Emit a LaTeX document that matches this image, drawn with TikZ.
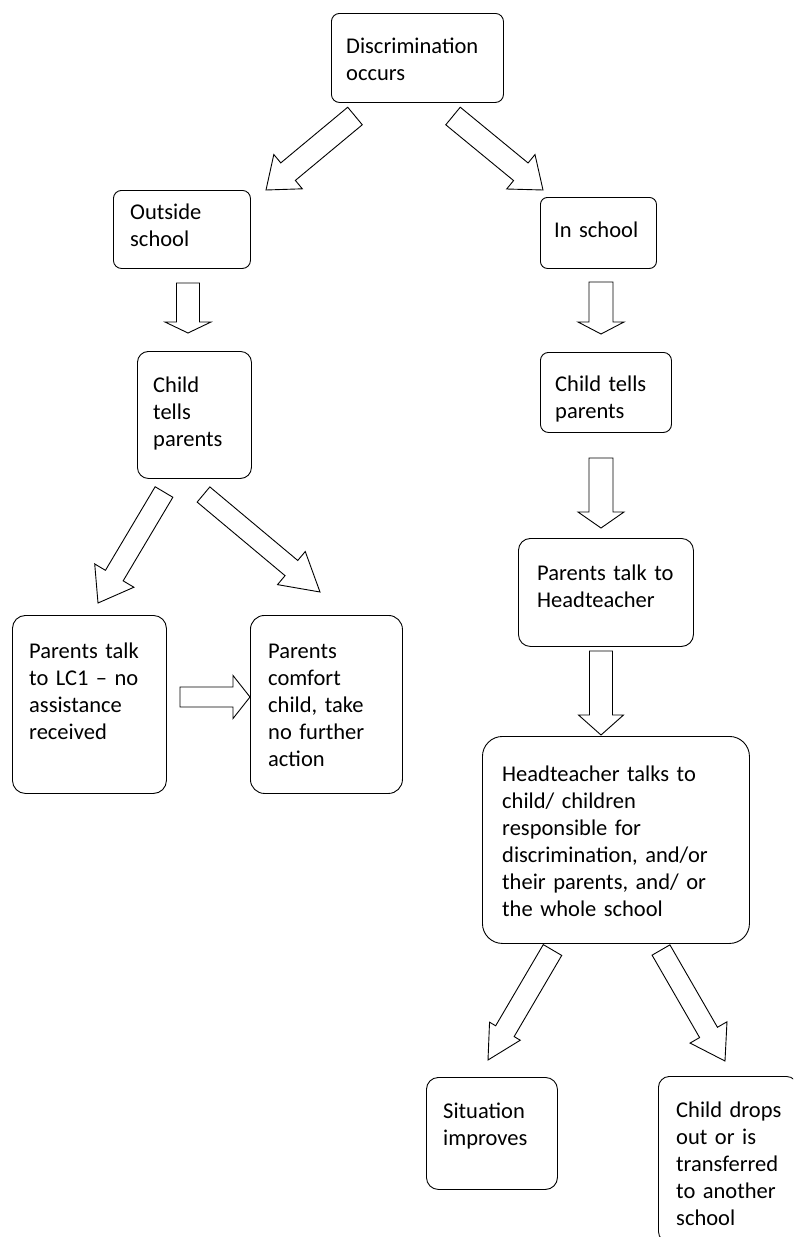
\documentclass[tikz,border=0pt]{standalone}
\usepackage{fontspec}
\setmainfont{Carlito}
\usetikzlibrary{calc}
\tikzset{
  box/.style={draw, line width=0.9pt, rounded corners=#1, anchor=north west, inner sep=0pt},
  box/.default=9pt,
  txt/.style={anchor=base west, inner sep=0pt, text width=300pt, align=left,
    font=\fontsize{22.5}{27}\selectfont},
  barrow/.style={draw, line width=0.9pt, fill=white, line join=miter}
}
\newcommand{\blockarrow}[5]{%
  \path ($(#2)!#5!(#1)$) coordinate (hb);
  \draw[barrow] ($(#1)!#3!90:(#2)$) -- ($(hb)!#3!90:(#2)$) -- ($(hb)!#4!90:(#2)$)
    -- (#2) -- ($(hb)!#4!-90:(#2)$) -- ($(hb)!#3!-90:(#2)$) -- ($(#1)!#3!-90:(#2)$) -- cycle;
}
\begin{document}
\begin{tikzpicture}[x=1pt, y=-1pt]
\useasboundingbox (0,0) rectangle (793,1237);
\clip (0,0) rectangle (793,1237);
\fill[white] (0,0) rectangle (793,1237);

% boxes
\node[box=8pt, minimum width=172pt, minimum height=89pt] (disc) at (331,13) {};
\node[box=8pt, minimum width=137pt, minimum height=78pt] (out) at (113,190) {};
\node[box=7pt, minimum width=116pt, minimum height=71pt] (in) at (540,197) {};
\node[box=11pt, minimum width=114pt, minimum height=127pt] (ctl) at (137,351) {};
\node[box=8pt, minimum width=131pt, minimum height=80pt] (ctr) at (540,352) {};
\node[box=13pt, minimum width=154pt, minimum height=178pt] (lc1) at (12,615) {};
\node[box=14pt, minimum width=152pt, minimum height=178pt] (com) at (250,615) {};
\node[box=12pt, minimum width=175pt, minimum height=108pt] (pth) at (518,538) {};
\node[box=20pt, minimum width=267pt, minimum height=207pt] (htt) at (482,736) {};
\node[box=12pt, minimum width=131pt, minimum height=112pt] (sit) at (426,1077) {};
\node[box=11pt, minimum width=139pt, minimum height=166pt] (drp) at (658,1076) {};

% texts
\node[txt] (tdisc) at (346,53) {Discrimination\\occurs};
\node[txt] (tout) at (130,219) {Outside\\school};
\node[txt] (tin) at (554,237) {In school};
\node[txt] (tctl) at (153,392) {Child\\tells\\parents};
\node[txt] (tctr) at (555,391) {Child tells\\parents};
\node[txt] (tlc1) at (29,658) {Parents talk\\to LC1 – no\\assistance\\received};
\node[txt] (tcom) at (268,658) {Parents\\comfort\\child, take\\no further\\action};
\node[txt] (tpth) at (537,580) {Parents talk to\\Headteacher};
\node[txt] (thtt) at (502,781) {Headteacher talks to\\child/ children\\responsible for\\discrimination, and/or\\their parents, and/ or\\the whole school};
\node[txt] (tsit) at (443,1118) {Situation\\improves};
\node[txt] (tdrp) at (676,1117) {Child drops\\out or is\\transferred\\to another\\school};

% arrow end points
\coordinate (a1s) at (355,116);   \coordinate (a1e) at (266,190);
\coordinate (a2s) at (453,116);   \coordinate (a2e) at (543,190);
\coordinate (a3s) at (188,283);   \coordinate (a3e) at (188,333);
\coordinate (a4s) at (601,282);   \coordinate (a4e) at (601,334);
\coordinate (a5s) at (164,492);   \coordinate (a5e) at (98,603);
\coordinate (a6s) at (203.5,494.5); \coordinate (a6e) at (320,592);
\coordinate (a7s) at (180,697);   \coordinate (a7e) at (250,697);
\coordinate (a8s) at (601,458);   \coordinate (a8e) at (601,528);
\coordinate (a9s) at (601,651);   \coordinate (a9e) at (601,735);
\coordinate (a10s) at (552.5,950); \coordinate (a10e) at (488,1060);
\coordinate (a11s) at (661,950);  \coordinate (a11e) at (725,1061);

% block arrows
\blockarrow{a1s}{a1e}{11.4pt}{22.3pt}{28.7pt}
\blockarrow{a2s}{a2e}{11.4pt}{22.3pt}{28.7pt}
\blockarrow{a3s}{a3e}{11.5pt}{23pt}{11pt}
\blockarrow{a4s}{a4e}{12pt}{23pt}{12pt}
\blockarrow{a5s}{a5e}{10.3pt}{22.8pt}{31.9pt}
\blockarrow{a6s}{a6e}{9.9pt}{21.6pt}{37.3pt}
\blockarrow{a7s}{a7e}{10pt}{21.5pt}{17pt}
\blockarrow{a8s}{a8e}{12pt}{23pt}{16pt}
\blockarrow{a9s}{a9e}{11.5pt}{22.5pt}{20pt}
\blockarrow{a10s}{a10e}{10.7pt}{17.8pt}{33.4pt}
\blockarrow{a11s}{a11e}{10.3pt}{21.3pt}{33pt}
\end{tikzpicture}
\end{document}
